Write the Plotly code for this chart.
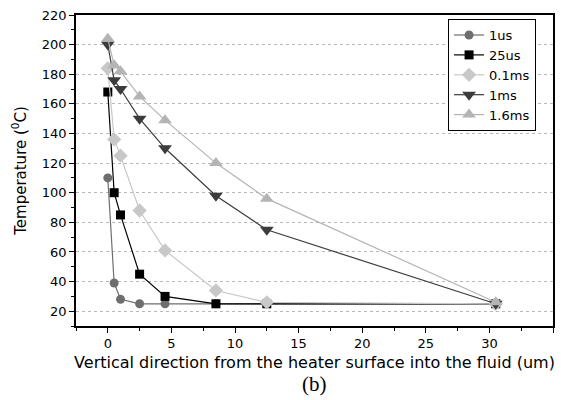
import plotly.graph_objects as go

x_pos = [0, 0.5, 1, 2.5, 4.5, 8.5, 12.5, 30.5]
t_1us = [110, 39, 28, 25, 25, 25, 25, 25]
t_25us = [168, 100, 85, 45, 30, 25, 25, 25]
t_01ms = [184, 136, 125, 88, 61, 34, 26, 25]
t_1ms = [200, 176, 170, 150, 130, 98, 75, 25]
t_16ms = [204, 186, 182, 165, 149, 120, 96, 26]

series_names = ["1us", "25us", "0.1ms", "1ms", "1.6ms"]
series_vals = [t_1us, t_25us, t_01ms, t_1ms, t_16ms]
colors = ["#6e6e6e", "#000000", "#c8c8c8", "#3c3c3c", "#b4b4b4"]
symbols = ["circle", "square", "diamond", "triangle-down", "triangle-up"]
sizes = [9, 9, 11, 12, 12]

fig = go.Figure()
for name, vals, c, s, sz in zip(series_names, series_vals, colors, symbols, sizes):
    fig.add_trace(go.Scatter(
        x=x_pos, y=vals, name=name, mode="lines+markers",
        line=dict(color=c, width=1.2),
        marker=dict(color=c, symbol=s, size=sz),
    ))

font_main = "DejaVu Sans, sans-serif"
fig.update_layout(
    width=561, height=400,
    margin=dict(l=76, r=6, t=15, b=74),
    paper_bgcolor="white", plot_bgcolor="white",
    font=dict(family=font_main, color="black", size=14),
    showlegend=True,
    legend=dict(x=0.78, y=0.987, xanchor="left", yanchor="top",
                bordercolor="black", borderwidth=1, bgcolor="white",
                font=dict(size=13), tracegroupgap=0, itemwidth=30),
    annotations=[dict(text="(b)", x=0.5, y=-0.1865, xref="paper", yref="paper",
                      xanchor="center", yanchor="middle", showarrow=False,
                      font=dict(family="Liberation Serif, Times New Roman, serif", size=21))],
)
fig.update_xaxes(
    range=[-2.5, 35], tickmode="linear", tick0=0, dtick=5,
    ticks="outside", ticklen=5, tickwidth=1.2, tickcolor="black",
    minor=dict(ticks="outside", ticklen=3, dtick=2.5, tick0=0, tickcolor="black", showgrid=False),
    showline=True, linecolor="black", linewidth=1.5, mirror=True,
    showgrid=False, zeroline=False,
    title=dict(text="Vertical direction from the heater surface into the fluid (um)",
               font=dict(size=16), standoff=6),
    tickfont=dict(size=13),
)
fig.update_yaxes(
    range=[10, 220], tickmode="linear", tick0=20, dtick=20,
    ticks="outside", ticklen=5, tickwidth=1.2, tickcolor="black",
    minor=dict(ticks="outside", ticklen=3, dtick=10, tick0=0, tickcolor="black", showgrid=False),
    showline=True, linecolor="black", linewidth=1.5, mirror=True,
    showgrid=True, gridcolor="#b8b8b8", griddash="dot", gridwidth=1,
    zeroline=False,
    title=dict(text="Temperature (<sup>0</sup>C)", font=dict(size=15), standoff=12),
    tickfont=dict(size=13),
)
fig.write_html("out.html")
